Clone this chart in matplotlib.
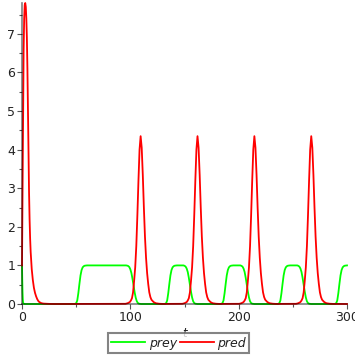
import matplotlib
matplotlib.use("Agg")
import matplotlib.pyplot as plt
from matplotlib.ticker import MultipleLocator

# ---- data ----
t_prey = [0, 0.25, 0.5, 0.75, 1, 1.5, 2,
          48, 49, 50, 51, 52, 53, 54, 55, 56, 57, 58, 60,
          96, 97, 98, 99, 100, 101, 102, 103, 104, 105, 106, 107, 108, 110,
          131, 132, 133, 134, 135, 136, 137, 138, 139, 140, 141, 143,
          149, 150, 151, 152, 153, 154, 155, 156, 157, 158, 159, 160, 162,
          183, 184, 185, 186, 187, 188, 189, 190, 191, 192, 193, 195,
          201.5, 202.5, 203.5, 204.5, 205.5, 206.5, 207.5, 208.5, 209.5, 210.5, 211.5, 212.5, 214.5,
          235.5, 236.5, 237.5, 238.5, 239.5, 240.5, 241.5, 242.5, 243.5, 244.5, 245.5, 247.5,
          254, 255, 256, 257, 258, 259, 260, 261, 262, 263, 264, 265, 267,
          288, 289, 290, 291, 292, 293, 294, 295, 296, 297, 298, 300]
prey = [1.0, 0.6, 0.3, 0.12, 0.04, 0.005, 0.0,
        0.0, 0.005, 0.02, 0.09, 0.28, 0.52, 0.74, 0.88, 0.95, 0.98, 0.993, 1.0,
        1.0, 0.995, 0.985, 0.96, 0.9, 0.8, 0.65, 0.48, 0.3, 0.16, 0.07, 0.025, 0.008, 0.0,
        0.0, 0.005, 0.02, 0.09, 0.28, 0.52, 0.74, 0.88, 0.95, 0.98, 0.993, 1.0,
        1.0, 0.99, 0.97, 0.92, 0.83, 0.68, 0.5, 0.32, 0.17, 0.07, 0.025, 0.008, 0.0,
        0.0, 0.005, 0.02, 0.09, 0.28, 0.52, 0.74, 0.88, 0.95, 0.98, 0.993, 1.0,
        1.0, 0.99, 0.97, 0.92, 0.83, 0.68, 0.5, 0.32, 0.17, 0.07, 0.025, 0.008, 0.0,
        0.0, 0.005, 0.02, 0.09, 0.28, 0.52, 0.74, 0.88, 0.95, 0.98, 0.993, 1.0,
        1.0, 0.99, 0.97, 0.92, 0.83, 0.68, 0.5, 0.32, 0.17, 0.07, 0.025, 0.008, 0.0,
        0.0, 0.005, 0.02, 0.09, 0.28, 0.52, 0.74, 0.88, 0.95, 0.98, 0.993, 1.0]

t_pred = [0, 0.5, 1, 1.5, 2, 2.5, 3, 3.5, 4, 4.5, 5, 5.5, 6, 6.5, 7, 7.5, 8, 8.5, 9,
          10, 11, 12, 13, 14, 15, 16, 18, 20, 25, 30,
          95.5, 97.5, 99.5, 100.5, 101.5, 102.5, 103.5, 104.5, 105.5, 106.5, 107.5, 108.5,
          109.5, 110.5, 111.5, 112.5, 113.5, 114.5, 115.5, 116.5, 117.5, 118.5, 119.5,
          121.5, 123.5, 126.5, 129.5,
          148, 150, 152, 153, 154, 155, 156, 157, 158, 159, 160, 161,
          162, 163, 164, 165, 166, 167, 168, 169, 170, 171, 172,
          174, 176, 179, 182,
          200.5, 202.5, 204.5, 205.5, 206.5, 207.5, 208.5, 209.5, 210.5, 211.5, 212.5, 213.5,
          214.5, 215.5, 216.5, 217.5, 218.5, 219.5, 220.5, 221.5, 222.5, 223.5, 224.5,
          226.5, 228.5, 231.5, 234.5,
          253, 255, 257, 258, 259, 260, 261, 262, 263, 264, 265, 266,
          267, 268, 269, 270, 271, 272, 273, 274, 275, 276, 277,
          279, 281, 284, 287, 300]
pred = [1.0, 3.0, 5.0, 6.6, 7.4, 7.75, 7.8, 7.7, 7.4, 6.9, 6.1, 5.0, 3.9, 2.9, 2.2, 1.7, 1.35, 1.1, 0.9,
        0.62, 0.42, 0.29, 0.2, 0.13, 0.08, 0.05, 0.02, 0.01, 0.003, 0.0,
        0.005, 0.02, 0.05, 0.09, 0.15, 0.3, 0.6, 0.95, 1.5, 2.3, 3.2, 4.0,
        4.35, 4.05, 3.35, 2.5, 1.75, 1.2, 0.8, 0.52, 0.3, 0.18, 0.11,
        0.05, 0.02, 0.007, 0.002,
        0.005, 0.02, 0.05, 0.09, 0.15, 0.3, 0.6, 0.95, 1.5, 2.3, 3.2, 4.0,
        4.35, 4.05, 3.35, 2.5, 1.75, 1.2, 0.8, 0.52, 0.3, 0.18, 0.11,
        0.05, 0.02, 0.007, 0.002,
        0.005, 0.02, 0.05, 0.09, 0.15, 0.3, 0.6, 0.95, 1.5, 2.3, 3.2, 4.0,
        4.35, 4.05, 3.35, 2.5, 1.75, 1.2, 0.8, 0.52, 0.3, 0.18, 0.11,
        0.05, 0.02, 0.007, 0.002,
        0.005, 0.02, 0.05, 0.09, 0.15, 0.3, 0.6, 0.95, 1.5, 2.3, 3.2, 4.0,
        4.35, 4.05, 3.35, 2.5, 1.75, 1.2, 0.8, 0.52, 0.3, 0.18, 0.11,
        0.05, 0.02, 0.007, 0.002, 0.0]

x_ticks = [0, 100, 200, 300]
y_ticks = [0, 1, 2, 3, 4, 5, 6, 7]
series_names = ["prey", "pred"]

# ---- figure ----
plt.rcParams['font.family'] = ['DejaVu Sans']
fig = plt.figure(figsize=(3.55, 3.55), dpi=100)
ax = fig.add_axes([22/355, 51/355, 325/355, 301/355])

l1, = ax.plot(t_prey, prey, color='#00ff00', lw=1.3, clip_on=False, zorder=2)
l2, = ax.plot(t_pred, pred, color='#ff0000', lw=1.3, clip_on=False, zorder=2)

ax.set_xlim(0, 300)
ax.set_ylim(0, 7.8)
for s in ['top', 'right']:
    ax.spines[s].set_visible(False)
for s in ['left', 'bottom']:
    ax.spines[s].set_color((0, 0, 0, 0.5))
    ax.spines[s].set_linewidth(1.2)
    ax.spines[s].set_zorder(5)

ax.set_xticks(x_ticks)
ax.set_yticks(y_ticks)
ax.xaxis.set_minor_locator(MultipleLocator(50))
ax.yaxis.set_minor_locator(MultipleLocator(0.5))
ax.tick_params(which='both', direction='out', color='#555555', width=0.8, labelsize=9,
               labelcolor='#222222', pad=1.5)
ax.tick_params(which='major', length=3.5)
ax.tick_params(which='minor', length=2.5)

ax.set_xlabel('t', style='italic', fontsize=8.5, labelpad=2, color='#222222')

leg = fig.legend([l1, l2], series_names, loc='center', bbox_to_anchor=(178.5/355, 1 - 343/355),
                 ncol=2, fontsize=9, frameon=True, fancybox=False, edgecolor='#666666',
                 handlelength=2.7, handletextpad=0.3, columnspacing=0.25, borderpad=0.25,
                 borderaxespad=0, handleheight=0.6)
for txt in leg.get_texts():
    txt.set_style('italic')
    txt.set_color('#222222')
leg.get_frame().set_linewidth(1.5)

fig.savefig('out.png', dpi=100)
